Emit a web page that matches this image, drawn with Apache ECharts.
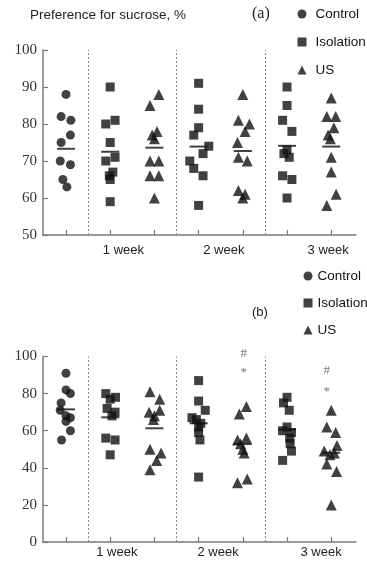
<!DOCTYPE html>
<html><head><meta charset="utf-8">
<script src="https://cdn.jsdelivr.net/npm/echarts@6/dist/echarts.min.js"></script>
<style>html,body{margin:0;padding:0;background:#fff}#c{width:367px;height:562px}</style>
</head><body><div id="c"></div>
<script>
// ---------- data ----------
const weekLabels = ['1 week', '2 week', '3 week'];
const legendNames = ['Control', 'Isolation', 'US'];
const groupPos = [1, 2, 3, 4, 5, 6, 7]; // control, iso1w, us1w, iso2w, us2w, iso3w, us3w
const sepPos = [1.5, 3.5, 5.5];
const yTicksA = [50, 100, 10];
const yTicksB = [0, 100, 20];
const weekLabelPosA = [2.30, 4.57, 6.93];
const weekLabelPosB = [2.15, 4.44, 6.77];

// panel (a)
const aControl = [88, 82, 81, 77, 75, 70, 69, 65, 63];
const aControlJit = [0, -0.11, 0.11, 0.1, -0.11, -0.13, 0.1, -0.07, 0.02];
const aIso1w = [90, 81, 80, 75, 71, 70, 67, 66, 65, 59];
const aIso1wJit = [0, 0.11, -0.1, 0, 0.11, -0.1, 0.06, -0.02, 0, 0];
const aUS1w = [88, 85, 78, 77, 76, 70, 70, 66, 66, 60];
const aUS1wJit = [0.1, -0.1, 0.06, -0.05, 0, -0.1, 0.1, -0.1, 0.1, 0];
const aIso2w = [91, 84, 79, 77, 74, 72, 70, 68, 66, 58];
const aIso2wJit = [0, 0, 0, -0.11, 0.23, 0.1, -0.2, -0.11, 0.1, 0];
const aUS2w = [88, 81, 80, 78, 75, 71, 70, 62, 61, 60];
const aUS2wJit = [0, -0.1, 0.15, 0.05, -0.12, -0.1, 0.1, -0.1, 0.05, 0];
const aIso3w = [90, 85, 81, 78, 73, 72, 71, 66, 65, 60];
const aIso3wJit = [0, 0, -0.1, 0.11, 0, -0.07, 0.05, -0.1, 0.11, 0];
const aUS3w = [87, 82, 82, 79, 77, 76, 71, 67, 61, 58];
const aUS3wJit = [0, -0.1, 0.1, 0.06, -0.07, -0.02, 0, 0, 0.11, -0.1];
const aMeans = [73.3, 72.5, 73.6, 73.9, 72.7, 74.1, 73.9];

// panel (b)
const bControl = [91, 82, 80, 75, 71, 68, 67, 65, 60, 55];
const bControlJit = [0, 0, 0.1, -0.11, -0.13, 0, 0.1, 0, 0.1, -0.1];
const bIso1w = [80, 78, 77, 72, 70, 68, 56, 55, 47];
const bIso1wJit = [-0.1, 0.12, 0, -0.07, 0.11, 0.04, -0.1, 0.11, 0];
const bUS1w = [81, 77, 71, 70, 68, 66, 50, 48, 44, 39];
const bUS1wJit = [-0.1, 0.12, 0.12, -0.12, 0, -0.02, -0.1, 0.15, 0.05, -0.1];
const bIso2w = [87, 76, 71, 67, 66, 64, 62, 59, 55, 35];
const bIso2wJit = [0, 0, 0.15, -0.15, -0.05, 0.05, 0, 0, 0.03, 0];
const bUS2w = [73, 69, 56, 55, 53, 50, 48, 34, 32];
const bUS2wJit = [0.08, -0.08, 0.08, -0.12, -0.05, 0, 0.03, 0.1, -0.12];
const bIso3w = [78, 75, 71, 62, 60, 59, 56, 53, 49, 44];
const bIso3wJit = [0, -0.08, 0.05, 0, -0.1, 0.1, 0.06, 0.07, 0.1, -0.1];
const bUS3w = [71, 62, 59, 52, 49, 48, 47, 42, 38, 20];
const bUS3wJit = [0, -0.1, 0.1, 0.13, -0.16, 0.07, -0.03, -0.1, 0.12, 0];
const bMeans = [71.5, 67.2, 61.3, 64.0, 52.8, 60.7, 48.1];
const bMarkText = ['#', '*', '#', '*'];
const bMarkGroup = [5, 5, 7, 7];
const bMarkJit = [0.02, 0.02, -0.1, -0.1];
const bMarkValue = [101.7, 91.3, 92.4, 81.0];

// ---------- build ----------
function pts(vals, jit, pos) { return vals.map((v, i) => [pos + jit[i], v]); }
const INK = '#111';
const AXIS = '#7a7a7a';

function panelSeries(idx, ctrl, ctrlJ, iso, isoJ, us, usJ, means) {
  const base = { type: 'scatter', xAxisIndex: idx, yAxisIndex: idx, itemStyle: { color: INK }, emphasis: { disabled: true } };
  return [
    Object.assign({}, base, { name: 'Control', symbol: 'circle', symbolSize: 9,
      data: pts(ctrl, ctrlJ, groupPos[0]) }),
    Object.assign({}, base, { name: 'Isolation', symbol: 'rect', symbolSize: 9,
      data: [].concat(pts(iso[0], isoJ[0], groupPos[1]), pts(iso[1], isoJ[1], groupPos[3]), pts(iso[2], isoJ[2], groupPos[5])) }),
    Object.assign({}, base, { name: 'US', symbol: 'triangle', symbolSize: 11,
      data: [].concat(pts(us[0], usJ[0], groupPos[2]), pts(us[1], usJ[1], groupPos[4]), pts(us[2], usJ[2], groupPos[6])) }),
    Object.assign({}, base, { name: 'mean', symbol: 'rect', symbolSize: [18, 2], silent: true,
      data: means.map((m, i) => [groupPos[i], m]),
      markLine: { silent: true, symbol: 'none', label: { show: false },
        lineStyle: { type: [2, 2], color: '#888', width: 1 },
        data: sepPos.map(p => ({ xAxis: p })) } })
  ];
}

function xAxisFor(idx, labelPos, margin) {
  return {
    type: 'value', gridIndex: idx, min: 0.48, max: 7.56,
    axisLine: { show: true, lineStyle: { color: AXIS, width: 1.5 } },
    axisTick: { show: true, inside: true, length: 5, customValues: groupPos, lineStyle: { color: AXIS, width: 1.2 } },
    axisLabel: { customValues: labelPos, margin: margin, fontFamily: 'Liberation Sans', fontSize: 13, color: '#222',
      formatter: v => { let k = 0, d = 1e9; labelPos.forEach((p, i) => { if (Math.abs(p - v) < d) { d = Math.abs(p - v); k = i; } }); return weekLabels[k]; } },
    splitLine: { show: false }
  };
}
function yAxisFor(idx, t) {
  return {
    type: 'value', gridIndex: idx, min: t[0], max: t[1], interval: t[2],
    axisLine: { show: true, lineStyle: { color: AXIS, width: 1.5 } },
    axisTick: { show: true, inside: true, length: 5, lineStyle: { color: AXIS, width: 1.2 } },
    axisLabel: { margin: 6, fontFamily: 'Liberation Serif', fontSize: 15, color: '#333' },
    splitLine: { show: false }
  };
}

const seriesB = panelSeries(1, bControl, bControlJit, [bIso1w, bIso2w, bIso3w], [bIso1wJit, bIso2wJit, bIso3wJit],
  [bUS1w, bUS2w, bUS3w], [bUS1wJit, bUS2wJit, bUS3wJit], bMeans);
seriesB.push({
  type: 'scatter', name: 'sig', xAxisIndex: 1, yAxisIndex: 1, symbolSize: 1, clip: false, silent: true,
  itemStyle: { color: 'rgba(0,0,0,0)' },
  label: { show: true, position: 'inside', formatter: p => p.data.name, fontFamily: 'Liberation Serif', fontSize: 13, color: '#555' },
  data: bMarkText.map((t, i) => ({ name: t, value: [bMarkGroup[i] + bMarkJit[i], bMarkValue[i]] }))
});

const legendIcons = ['circle', 'rect', 'triangle'];
function legendFor(left, top, gap, padLeft) {
  return {
    orient: 'vertical', padding: 0, itemWidth: 9, itemHeight: 9, selectedMode: false,
    left: left, top: top, itemGap: gap,
    textStyle: { fontFamily: 'Liberation Sans', fontSize: 13.5, lineHeight: 14, color: '#111', padding: [0, 0, 0, padLeft] },
    data: legendNames.map((n, i) => ({ name: n, icon: legendIcons[i] }))
  };
}

const option = {
  animation: false,
  backgroundColor: '#fff',
  title: [
    { text: 'Preference for sucrose, %', left: 30, top: 8, padding: 0,
      textStyle: { fontFamily: 'Liberation Sans', fontSize: 13.5, fontWeight: 'normal', color: '#222' } },
    { text: '(a)', left: 252, top: 6, padding: 0,
      textStyle: { fontFamily: 'Liberation Serif', fontSize: 16, fontWeight: 'normal', color: '#222' } },
    { text: '(b)', left: 252, top: 306, padding: 0,
      textStyle: { fontFamily: 'Liberation Sans', fontSize: 13, fontWeight: 'normal', color: '#222' } }
  ],
  legend: [legendFor(297.5, 7, 14, 4), legendFor(303.5, 269, 13, 0)],
  grid: [
    { left: 43, top: 50, width: 313, height: 185 },
    { left: 43, top: 356.5, width: 313, height: 185.5 }
  ],
  xAxis: [xAxisFor(0, weekLabelPosA, 8.5), xAxisFor(1, weekLabelPosB, 4)],
  yAxis: [yAxisFor(0, yTicksA), yAxisFor(1, yTicksB)],
  series: panelSeries(0, aControl, aControlJit, [aIso1w, aIso2w, aIso3w], [aIso1wJit, aIso2wJit, aIso3wJit],
    [aUS1w, aUS2w, aUS3w], [aUS1wJit, aUS2wJit, aUS3wJit], aMeans).concat(seriesB)
};
const chart = echarts.init(document.getElementById('c'), null, { renderer: 'canvas' });
chart.setOption(option);
</script></body></html>
